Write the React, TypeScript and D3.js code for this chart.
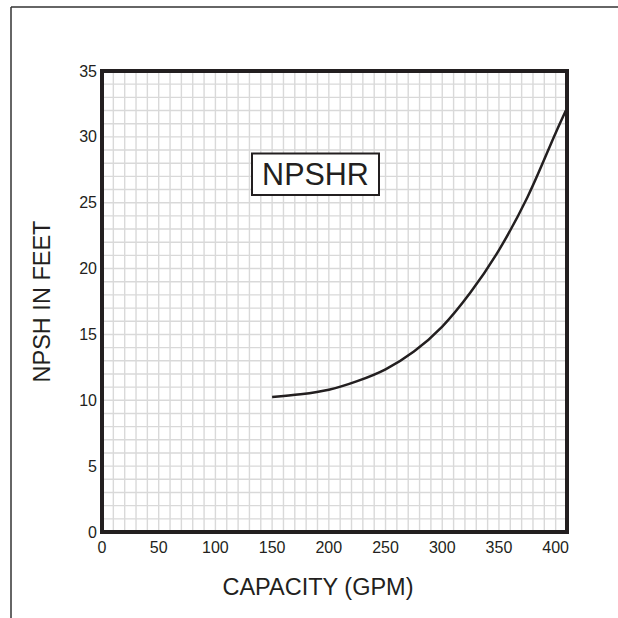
import * as d3 from 'd3';
import React from 'react';

// NPSHR curve (GPM, feet)
const capacity = [150, 175, 200, 225, 250, 275, 300, 325, 350, 375, 400, 409];
const npsh = [10.25, 10.45, 10.8, 11.45, 12.35, 13.7, 15.6, 18.2, 21.4, 25.4, 30.3, 32];

const xTicks = [0, 50, 100, 150, 200, 250, 300, 350, 400];
const yTicks = [0, 5, 10, 15, 20, 25, 30, 35];

const FONT = '"Liberation Sans", Arial, Helvetica, sans-serif';

const App: React.FC = () => {
  const width = 618;
  const height = 618;
  const plot = { left: 102, right: 567, top: 71, bottom: 532 };

  const x = d3.scaleLinear().domain([0, 410]).range([plot.left, plot.right]);
  const y = d3.scaleLinear().domain([0, 35]).range([plot.bottom, plot.top]);

  const xGrid = d3.range(10, 410, 10);
  const yGrid = d3.range(1, 35, 1);

  const points = capacity.map((c, i) => [c, npsh[i]] as [number, number]);
  const line = d3.line<[number, number]>()
    .x(d => x(d[0]))
    .y(d => y(d[1]))
    .curve(d3.curveCatmullRom.alpha(0.5));

  return (
    <svg
      width={width}
      height={height}
      style={{ position: 'absolute', left: 0, top: 0, background: '#fff' }}
    >
      {/* page frame */}
      <line x1={11} y1={7} x2={618} y2={7} stroke="#333" strokeWidth={1.5} />
      <line x1={11} y1={7} x2={11} y2={618} stroke="#333" strokeWidth={1.5} />

      {/* grid */}
      <g stroke="#d9d9d9" strokeWidth={1.4}>
        {xGrid.map(v => (
          <line key={'gx' + v} x1={x(v)} x2={x(v)} y1={plot.top} y2={plot.bottom} />
        ))}
        {yGrid.map(v => (
          <line key={'gy' + v} x1={plot.left} x2={plot.right} y1={y(v)} y2={y(v)} />
        ))}
      </g>

      {/* curve */}
      <path d={line(points) || ''} fill="none" stroke="#231f20" strokeWidth={2.5} />

      {/* plot border */}
      <rect
        x={plot.left}
        y={plot.top}
        width={plot.right - plot.left}
        height={plot.bottom - plot.top}
        fill="none"
        stroke="#231f20"
        strokeWidth={4}
      />

      {/* tick labels */}
      <g fontFamily={FONT} fontSize={16} fill="#231f20">
        {xTicks.map(v => (
          <text key={'tx' + v} x={x(v)} y={553} textAnchor="middle">{v}</text>
        ))}
        {yTicks.map(v => (
          <text key={'ty' + v} x={97} y={y(v) + 5.5} textAnchor="end">{v}</text>
        ))}
      </g>

      {/* axis titles */}
      <text x={318} y={595} textAnchor="middle" fontFamily={FONT} fontSize={23.5} fill="#231f20">
        CAPACITY (GPM)
      </text>
      <text
        transform={`translate(50,${(plot.top + plot.bottom) / 2}) rotate(-90)`}
        textAnchor="middle"
        fontFamily={FONT}
        fontSize={23.5}
        fill="#231f20"
      >
        NPSH IN FEET
      </text>

      {/* label box */}
      <rect x={252} y={153.5} width={127} height={41.5} fill="#fff" stroke="#231f20" strokeWidth={2} />
      <text x={315.5} y={185} textAnchor="middle" fontFamily={FONT} fontSize={30.5} fill="#231f20">
        NPSHR
      </text>
    </svg>
  );
};

export default App;
